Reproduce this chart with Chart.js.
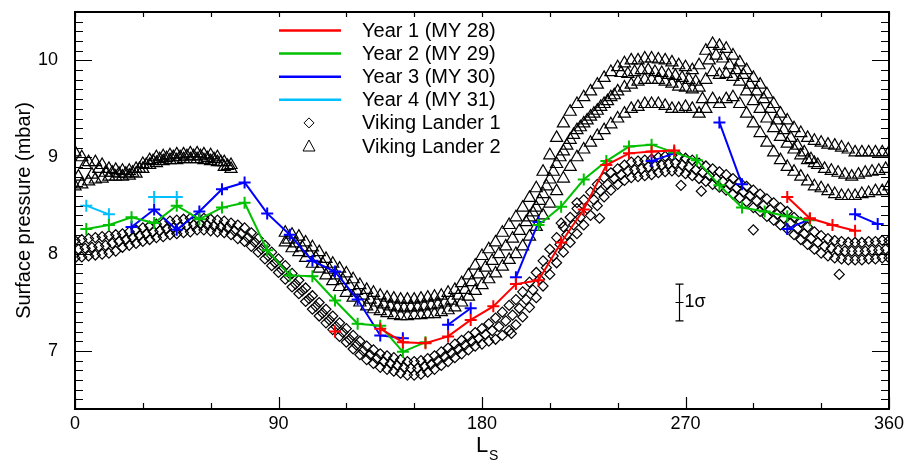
<!DOCTYPE html>
<html>
<head>
<meta charset="utf-8">
<script src="https://cdn.jsdelivr.net/npm/chart.js@4.4.1/dist/chart.umd.min.js"></script>
<style>
  html, body { margin: 0; padding: 0; background: #fff; }
  canvas { display: block; }
</style>
</head>
<body>
<canvas id="graficoPressao" width="908" height="464"></canvas>
<script>
// Ls bins of the orbiter retrievals (centre of each 10 degree bin)
var lsBins = [5, 15, 25, 35, 45, 55, 65, 75, 85, 95, 105, 115, 125, 135, 145, 155, 165, 175,
  185, 195, 205, 215, 225, 235, 245, 255, 265, 275, 285, 295, 305, 315, 325, 335, 345, 355];

var year1 = [null, null, null, null, null, null, null, null, null, null, null, 7.20, null, 7.23, 7.09, 7.08, 7.15, 7.32,
  7.46, 7.69, 7.73, 8.12, 8.46, 8.92, 9.04, 9.06, 9.07, null, null, null, null, 8.59, 8.37, 8.30, 8.24, null];
var year2 = [8.26, 8.30, 8.38, 8.32, 8.50, 8.36, 8.48, 8.53, 8.04, 7.78, 7.77, 7.52, 7.28, 7.26, 6.99, 7.09, null, null,
  null, null, 8.30, 8.49, 8.77, 8.96, 9.11, 9.13, 9.05, 8.97, 8.71, 8.48, 8.44, 8.39, 8.35, null, null, null];
var year3 = [null, null, 8.28, 8.46, 8.25, 8.44, 8.67, 8.74, 8.42, 8.20, 7.93, 7.82, 7.53, 7.16, 7.13, null, 7.27, 7.44,
  null, 7.76, 8.33, null, null, null, null, 8.96, 9.04, null, 9.36, 8.72, null, 8.26, 8.36, null, 8.41, 8.31];
var year4 = [8.50, 8.41, null, 8.59, 8.59, null, null, null, null, null, null, null, null, null, null, null, null, null,
  null, null, null, null, null, null, null, null, null, null, null, null, null, null, null, null, null, null];

// Viking Lander 1, read as upper and lower edge of the scatter band
var vl1Ls = [0, 3, 6, 9, 12, 15, 18, 21, 24, 27, 30, 33, 36, 39, 42, 45, 48, 51, 54, 57,
  60, 63, 66, 69, 72, 75, 78, 81, 84, 87, 90, 93, 96, 99, 102, 105, 108, 111, 114, 117,
  120, 123, 126, 129, 132, 135, 138, 141, 144, 147, 150, 153, 156, 159, 162, 165, 168, 171, 174, 177,
  180, 183, 186, 189, 192, 195, 198, 201, 204, 207, 210, 213, 216, 219, 222, 225, 228, 231, 234, 237,
  240, 243, 246, 249, 252, 255, 258, 261, 264, 267, 270, 273, 276, 279, 282, 285, 288, 291, 294, 297,
  300, 303, 306, 309, 312, 315, 318, 321, 324, 327, 330, 333, 336, 339, 342, 345, 348, 351, 354, 357, 360];
var vl1Upper = [8.14, 8.15, 8.16, 8.17, 8.18, 8.19, 8.20, 8.21, 8.23, 8.25,
  8.27, 8.29, 8.31, 8.32, 8.34, 8.35, 8.36, 8.37, 8.37, 8.37,
  8.36, 8.35, 8.34, 8.32, 8.30, 8.27, 8.22, 8.16, 8.09, 8.02,
  7.95, 7.88, 7.80, 7.73, 7.65, 7.57, 7.50, 7.43, 7.36, 7.29,
  7.23, 7.16, 7.10, 7.05, 7.01, 6.97, 6.95, 6.93, 6.91, 6.89,
  6.89, 6.90, 6.92, 6.95, 6.99, 7.03, 7.07, 7.11, 7.15, 7.19,
  7.23, 7.28, 7.34, 7.40, 7.47, 7.53, 7.61, 7.71, 7.81, 7.93,
  8.05, 8.17, 8.28, 8.38, 8.47, 8.56, 8.64, 8.72, 8.79, 8.84,
  8.88, 8.92, 8.95, 8.96, 8.97, 8.98, 9.00, 9.01, 9.02, 9.01,
  8.99, 8.97, 8.94, 8.91, 8.88, 8.85, 8.82, 8.78, 8.74, 8.70,
  8.66, 8.62, 8.57, 8.53, 8.48, 8.44, 8.38, 8.33, 8.28, 8.23,
  8.19, 8.16, 8.14, 8.13, 8.12, 8.12, 8.12, 8.13, 8.13, 8.14, 8.14];
var vl1Lower = [7.96, 7.97, 7.98, 7.99, 8.00, 8.01, 8.03, 8.07, 8.09, 8.11,
  8.13, 8.15, 8.17, 8.18, 8.20, 8.21, 8.22, 8.23, 8.25, 8.25,
  8.24, 8.23, 8.22, 8.20, 8.16, 8.13, 8.08, 8.02, 7.95, 7.88,
  7.81, 7.74, 7.66, 7.59, 7.51, 7.43, 7.36, 7.29, 7.22, 7.15,
  7.09, 7.02, 6.96, 6.91, 6.87, 6.83, 6.81, 6.79, 6.77, 6.75,
  6.75, 6.76, 6.78, 6.81, 6.85, 6.89, 6.93, 6.97, 7.01, 7.05,
  7.07, 7.10, 7.12, 7.16, 7.21, 7.27, 7.35, 7.45, 7.55, 7.67,
  7.79, 7.91, 8.02, 8.12, 8.21, 8.30, 8.40, 8.50, 8.59, 8.66,
  8.72, 8.76, 8.79, 8.80, 8.81, 8.82, 8.84, 8.85, 8.86, 8.85,
  8.83, 8.81, 8.78, 8.75, 8.72, 8.69, 8.66, 8.62, 8.58, 8.54,
  8.48, 8.44, 8.39, 8.35, 8.30, 8.26, 8.20, 8.15, 8.10, 8.05,
  8.01, 7.98, 7.96, 7.95, 7.94, 7.94, 7.94, 7.95, 7.95, 7.96, 7.96];
// VL1 middle of the band, sampled between the grid above
var vl1MidLs = [1.5, 4.5, 7.5, 10.5, 13.5, 16.5, 19.5, 22.5, 25.5, 28.5, 31.5, 34.5, 37.5, 40.5, 43.5, 46.5, 49.5, 52.5, 55.5, 58.5,
  61.5, 64.5, 67.5, 70.5, 73.5, 76.5, 79.5, 82.5, 85.5, 88.5, 91.5, 94.5, 97.5, 100.5, 103.5, 106.5, 109.5, 112.5, 115.5, 118.5,
  121.5, 124.5, 127.5, 130.5, 133.5, 136.5, 139.5, 142.5, 145.5, 148.5, 151.5, 154.5, 157.5, 160.5, 163.5, 166.5, 169.5, 172.5, 175.5, 178.5,
  181.5, 184.5, 187.5, 190.5, 193.5, 196.5, 199.5, 202.5, 205.5, 208.5, 211.5, 214.5, 217.5, 220.5, 223.5, 226.5, 229.5, 232.5, 235.5, 238.5,
  241.5, 244.5, 247.5, 250.5, 253.5, 256.5, 259.5, 262.5, 265.5, 268.5, 271.5, 274.5, 277.5, 280.5, 283.5, 286.5, 289.5, 292.5, 295.5, 298.5,
  301.5, 304.5, 307.5, 310.5, 313.5, 316.5, 319.5, 322.5, 325.5, 328.5, 331.5, 334.5, 337.5, 340.5, 343.5, 346.5, 349.5, 352.5, 355.5, 358.5];
var vl1Mid = [8.05, 8.06, 8.07, 8.08, 8.09, 8.11, 8.13, 8.15, 8.17, 8.19,
  8.21, 8.23, 8.24, 8.26, 8.27, 8.28, 8.29, 8.30, 8.31, 8.30,
  8.29, 8.28, 8.27, 8.24, 8.21, 8.17, 8.12, 8.05, 7.98, 7.91,
  7.84, 7.77, 7.69, 7.62, 7.54, 7.46, 7.39, 7.32, 7.25, 7.19,
  7.12, 7.06, 7.00, 6.96, 6.92, 6.89, 6.87, 6.85, 6.83, 6.82,
  6.82, 6.84, 6.86, 6.90, 6.94, 6.98, 7.02, 7.06, 7.10, 7.13,
  7.17, 7.21, 7.25, 7.31, 7.37, 7.44, 7.53, 7.63, 7.74, 7.86,
  7.98, 8.10, 8.20, 8.30, 8.38, 8.47, 8.56, 8.65, 8.72, 8.78,
  8.82, 8.86, 8.87, 8.88, 8.90, 8.91, 8.92, 8.93, 8.94, 8.92,
  8.90, 8.87, 8.84, 8.81, 8.78, 8.75, 8.72, 8.68, 8.64, 8.60,
  8.55, 8.50, 8.46, 8.41, 8.37, 8.32, 8.26, 8.21, 8.16, 8.12,
  8.08, 8.06, 8.04, 8.03, 8.03, 8.03, 8.03, 8.04, 8.04, 8.05];
var vl1ExtraLs = [193, 215, 222, 232, 268, 277, 300, 338];
var vl1Extra = [7.18, 8.32, 8.53, 8.37, 8.71, 8.65, 8.25, 7.79];

// Viking Lander 2 (no data between Ls 70 and 93)
var vl2Ls = [0, 3, 6, 9, 12, 15, 18, 21, 24, 27, 30, 33, 36, 39, 42, 45, 48, 51, 54, 57, 60, 63, 66, 69,
  93, 96, 99, 102, 105, 108, 111, 114, 117, 120, 123, 126, 129, 132, 135, 138, 141, 144, 147, 150,
  153, 156, 159, 162, 165, 168, 171, 174, 177, 180, 183, 186, 189, 192, 195, 198, 201, 204, 207, 210,
  213, 216, 219, 222, 225, 228, 231, 234, 237, 240, 243, 246, 249, 252, 255, 258, 261, 264, 267, 270,
  273, 276, 279, 282, 285, 288, 291, 294, 297, 300, 303, 306, 309, 312, 315, 318, 321, 324, 327, 330,
  333, 336, 339, 342, 345, 348, 351, 354, 357, 360];
var vl2Upper = [9.05, 9.00, 8.95, 8.95, 8.92, 8.88, 8.87, 8.86, 8.86, 8.88, 8.93, 8.97, 9.00, 9.01, 9.02, 9.03,
  9.03, 9.04, 9.04, 9.03, 9.02, 9.00, 8.95, 8.92,
  8.22, 8.20, 8.18, 8.12, 8.07, 8.02, 7.95, 7.90, 7.85, 7.80,
  7.74, 7.68, 7.63, 7.60, 7.57, 7.55, 7.54, 7.53, 7.53, 7.53,
  7.54, 7.55, 7.56, 7.57, 7.60, 7.63, 7.70, 7.78, 7.88, 7.98,
  8.05, 8.12, 8.22, 8.30, 8.38, 8.48, 8.58, 8.68, 8.85, 9.02,
  9.20, 9.35, 9.47, 9.55, 9.62, 9.68, 9.75, 9.82, 9.88, 9.93,
  9.97, 10.00, 10.00, 10.02, 10.02, 10.01, 10.00, 9.98, 9.95, 9.93,
  9.90, 9.95, 10.10, 10.17, 10.15, 10.12, 10.05, 9.98, 9.90, 9.82,
  9.75, 9.65, 9.55, 9.45, 9.38, 9.30, 9.25, 9.20, 9.17, 9.15,
  9.13, 9.12, 9.10, 9.08, 9.05, 9.05, 9.05, 9.05, 9.05, 9.05];
var vl2Lower = [8.70, 8.72, 8.75, 8.77, 8.78, 8.80, 8.80, 8.80, 8.81, 8.83, 8.88, 8.92, 8.94, 8.96, 8.97, 8.97,
  8.98, 8.98, 8.98, 8.97, 8.96, 8.95, 8.90, 8.88,
  8.12, 8.06, 8.02, 7.96, 7.90, 7.85, 7.78, 7.72, 7.66, 7.60,
  7.55, 7.50, 7.46, 7.43, 7.41, 7.39, 7.37, 7.36, 7.36, 7.37,
  7.37, 7.38, 7.38, 7.40, 7.42, 7.45, 7.50, 7.56, 7.62, 7.68,
  7.74, 7.80, 7.87, 7.94, 8.00, 8.08, 8.18, 8.28, 8.40, 8.52,
  8.65, 8.78, 8.90, 9.00, 9.08, 9.15, 9.22, 9.28, 9.34, 9.40,
  9.45, 9.50, 9.52, 9.55, 9.55, 9.55, 9.53, 9.50, 9.50, 9.52,
  9.50, 9.45, 9.50, 9.60, 9.55, 9.60, 9.62, 9.55, 9.45, 9.35,
  9.25, 9.15, 9.05, 8.97, 8.90, 8.85, 8.80, 8.75, 8.70, 8.68,
  8.65, 8.62, 8.60, 8.60, 8.60, 8.62, 8.63, 8.65, 8.65, 8.70];
// VL2 samples between the grid above
var vl2HalfLs = [1.5, 4.5, 7.5, 10.5, 13.5, 16.5, 19.5, 22.5, 25.5, 28.5, 31.5, 34.5, 37.5, 40.5, 43.5, 46.5, 49.5, 52.5, 55.5, 58.5,
  61.5, 64.5, 67.5,
  94.5, 97.5, 100.5, 103.5, 106.5, 109.5, 112.5, 115.5, 118.5, 121.5, 124.5, 127.5, 130.5, 133.5, 136.5, 139.5, 142.5, 145.5, 148.5, 151.5,
  154.5, 157.5, 160.5, 163.5, 166.5, 169.5, 172.5, 175.5, 178.5, 181.5, 184.5, 187.5, 190.5, 193.5, 196.5, 199.5, 202.5, 205.5, 208.5, 211.5,
  214.5, 217.5, 220.5, 223.5, 226.5, 229.5, 232.5, 235.5, 238.5, 241.5, 244.5, 247.5, 250.5, 253.5, 256.5, 259.5, 262.5, 265.5, 268.5, 271.5,
  274.5, 277.5, 280.5, 283.5, 286.5, 289.5, 292.5, 295.5, 298.5, 301.5, 304.5, 307.5, 310.5, 313.5, 316.5, 319.5, 322.5, 325.5, 328.5, 331.5,
  334.5, 337.5, 340.5, 343.5, 346.5, 349.5, 352.5, 355.5, 358.5];
var vl2Half = [8.80, 8.92, 8.82, 8.88, 8.84, 8.84, 8.83, 8.83, 8.84, 8.88, 8.92, 8.96, 8.98, 8.99, 9.00, 9.00, 9.01, 9.01, 9.01, 8.99,
  8.98, 8.95, 8.91,
  8.15, 8.11, 8.07, 8.01, 7.96, 7.90, 7.84, 7.78, 7.73, 7.67,
  7.62, 7.57, 7.53, 7.50, 7.48, 7.46, 7.45, 7.44, 7.45, 7.45,
  7.46, 7.47, 7.48, 7.50, 7.52, 7.57, 7.63, 7.71, 7.79, 7.86,
  7.93, 8.00, 8.08, 8.16, 8.24, 8.33, 8.43, 8.55, 8.70, 8.85,
  9.00, 9.12, 9.23, 9.31, 9.38, 9.45, 9.52, 9.58, 9.64, 9.87,
  9.86, 9.88, 9.90, 9.90, 9.88, 9.87, 9.85, 9.84, 9.82, 9.80,
  9.78, 9.60, 10.00, 10.05, 10.02, 9.95, 9.90, 9.85, 9.75, 9.68,
  9.60, 9.50, 9.38, 9.28, 9.20, 9.12, 9.05, 8.98, 8.92, 8.88,
  8.86, 8.84, 8.82, 8.80, 8.82, 8.84, 8.85, 8.86, 8.88];
// middle of the wide VL2 band around the dust season
var vl2MidLs = [201, 204, 207, 210, 213, 216, 219, 222, 225, 228, 231, 234, 237, 240, 243, 246, 249, 252, 255, 258,
  261, 264, 267, 270, 273, 276, 279, 282, 285, 288, 291, 294, 297, 300, 303, 306, 309, 312, 315, 318, 321, 324, 327];
var vl2Mid = [8.38, 8.48, 8.62, 8.77, 8.93, 9.06, 9.18, 9.28, 9.35, 9.42, 9.48, 9.55, 9.62, 9.68, 9.72, 9.75, 9.78, 9.80, 9.80, 9.80,
  9.78, 9.76, 9.73, 9.72, 9.70, 9.72, 9.80, 9.88, 9.85, 9.86, 9.83, 9.78, 9.68, 9.58, 9.50, 9.40, 9.30, 9.21, 9.14, 9.08, 9.02, 8.97, 8.94];

var xTicks = [0, 90, 180, 270, 360];
var yTicks = [7, 8, 9, 10];

// 1-sigma error bar shown in the plot
var sigmaLs = 267;
var sigmaP = 7.50;
var sigmaVal = 0.19;

var Grafico = Grafico || {};

Grafico.Pressao = (function() {

  var FONTE = '"Liberation Sans", Arial, Helvetica, sans-serif';

  function Pressao() {
    this.ctx = document.getElementById('graficoPressao').getContext('2d');
  }

  function pares(xs, ys) {
    return xs.map(function(x, i) { return { x: x, y: ys[i] }; });
  }

  function serieAno(label, valores, cor) {
    return {
      label: label,
      data: pares(lsBins, valores),
      showLine: true,
      spanGaps: false,
      borderColor: cor,
      backgroundColor: cor,
      borderWidth: 2,
      pointStyle: 'cross',
      pointRadius: 6,
      pointBorderWidth: 2,
      pointBorderColor: cor,
      naLegenda: true,
      simbolo: 'linha'
    };
  }

  function serieViking(label, xs, ys, estilo, raio, legenda) {
    return {
      label: label,
      data: pares(xs, ys),
      showLine: false,
      pointStyle: estilo,
      pointRadius: raio,
      pointBorderWidth: 1.2,
      pointBorderColor: '#000',
      pointBackgroundColor: 'rgba(0,0,0,0)',
      naLegenda: legenda,
      simbolo: estilo
    };
  }

  // no automatic padding from the tick labels, the box is placed by layout.padding
  function semPadding(s) {
    s.paddingTop = 0; s.paddingBottom = 0; s.paddingLeft = 0; s.paddingRight = 0;
  }

  // frame with inward ticks, like the original IDL plot
  var moldura = {
    id: 'moldura',
    afterDatasetsDraw: function(chart) {
      var c = chart.ctx, a = chart.chartArea;
      var sx = chart.scales.x, sy = chart.scales.y;
      c.save();
      c.strokeStyle = '#000';
      c.lineWidth = 1.2;
      c.beginPath();
      for (var l = 0; l <= 360; l += 30) {
        var px = Math.round(sx.getPixelForValue(l)) + 0.5;
        var maior = l % 90 === 0;
        c.moveTo(px, a.bottom); c.lineTo(px, a.bottom - (maior ? 12 : 6));
        c.moveTo(px, a.top); c.lineTo(px, a.top + 5);
      }
      for (var k = 64; k <= 105; k++) {
        var py = Math.round(sy.getPixelForValue(k / 10)) + 0.5;
        var len = k % 10 === 0 ? 17 : 8;
        c.moveTo(a.left, py); c.lineTo(a.left + len, py);
        c.moveTo(a.right, py); c.lineTo(a.right - len, py);
      }
      c.stroke();
      c.lineWidth = 2;
      c.strokeRect(a.left, a.top, a.right - a.left, a.bottom - a.top);

      // error bar
      var ex = Math.round(sx.getPixelForValue(sigmaLs)) + 0.5;
      var ey1 = sy.getPixelForValue(sigmaP + sigmaVal);
      var ey0 = sy.getPixelForValue(sigmaP - sigmaVal);
      var ey = sy.getPixelForValue(sigmaP);
      c.lineWidth = 1.2;
      c.beginPath();
      c.moveTo(ex, ey1); c.lineTo(ex, ey0);
      c.moveTo(ex - 4, ey1); c.lineTo(ex + 4, ey1);
      c.moveTo(ex - 4, ey0); c.lineTo(ex + 4, ey0);
      c.moveTo(ex - 4, ey); c.lineTo(ex + 4, ey);
      c.stroke();
      c.fillStyle = '#000';
      c.font = '18px ' + FONTE;
      c.textBaseline = 'middle';
      c.textAlign = 'left';
      c.fillText('1\u03c3', ex + 5, ey);

      // axis titles
      c.save();
      c.translate(24, (a.top + a.bottom) / 2);
      c.rotate(-Math.PI / 2);
      c.textAlign = 'center';
      c.font = '20px ' + FONTE;
      c.fillText('Surface pressure (mbar)', 0, 0);
      c.restore();
      c.textAlign = 'left';
      c.textBaseline = 'alphabetic';
      c.font = '22px ' + FONTE;
      c.fillText('L', 476, 452);
      c.font = '14px ' + FONTE;
      c.fillText('S', 489, 460);
      c.restore();
    }
  };

  var legenda = {
    id: 'legenda',
    afterDraw: function(chart) {
      var c = chart.ctx;
      var itens = chart.data.datasets.filter(function(d) { return d.naLegenda; });
      c.save();
      c.font = '20px ' + FONTE;
      c.textBaseline = 'middle';
      c.fillStyle = '#000';
      itens.forEach(function(ds, i) {
        var y = 30.5 + i * 23.1;
        if (ds.simbolo === 'linha') {
          c.strokeStyle = ds.borderColor;
          c.lineWidth = 2.5;
          c.beginPath(); c.moveTo(279, y); c.lineTo(341, y); c.stroke();
        } else {
          c.strokeStyle = '#000';
          c.lineWidth = 1;
          c.beginPath();
          if (ds.simbolo === 'rectRot') {
            c.moveTo(309, y - 5); c.lineTo(314, y); c.lineTo(309, y + 5); c.lineTo(304, y); c.closePath();
          } else {
            c.moveTo(309, y - 6); c.lineTo(315, y + 5); c.lineTo(303, y + 5); c.closePath();
          }
          c.stroke();
        }
        c.fillText(ds.label, 362, y + 1);
      });
      c.restore();
    }
  };

  Pressao.prototype.iniciar = function() {
    var fonteTicks = { family: FONTE, size: 18 };
    new Chart(this.ctx, {
      type: 'scatter',
      data: {
        datasets: [
          serieAno('Year 1 (MY 28)', year1, '#ff0000'),
          serieAno('Year 2 (MY 29)', year2, '#00c000'),
          serieAno('Year 3 (MY 30)', year3, '#0000ff'),
          serieAno('Year 4 (MY 31)', year4, '#00bfff'),
          serieViking('Viking Lander 1', vl1Ls, vl1Upper, 'rectRot', 5, true),
          serieViking('Viking Lander 2', vl2Ls, vl2Upper, 'triangle', 7, true),
          serieViking('Viking Lander 1', vl1Ls, vl1Lower, 'rectRot', 5, false),
          serieViking('Viking Lander 1', vl1MidLs, vl1Mid, 'rectRot', 5, false),
          serieViking('Viking Lander 1', vl1ExtraLs, vl1Extra, 'rectRot', 5, false),
          serieViking('Viking Lander 2', vl2Ls, vl2Lower, 'triangle', 7, false),
          serieViking('Viking Lander 2', vl2HalfLs, vl2Half, 'triangle', 7, false),
          serieViking('Viking Lander 2', vl2MidLs, vl2Mid, 'triangle', 7, false)
        ]
      },
      options: {
        responsive: false,
        animation: false,
        events: [],
        layout: { padding: { top: 12, right: 19, left: 0, bottom: 0 } },
        plugins: { legend: { display: false }, tooltip: { enabled: false } },
        scales: {
          x: {
            type: 'linear', min: 0, max: 360,
            afterBuildTicks: function(s) { s.ticks = xTicks.map(function(v) { return { value: v }; }); },
            afterFit: function(s) { s.height = 55; semPadding(s); },
            grid: { display: false }, border: { display: false },
            ticks: { font: fonteTicks, color: '#000', padding: -4, maxRotation: 0 }
          },
          y: {
            type: 'linear', min: 6.4, max: 10.5,
            afterBuildTicks: function(s) { s.ticks = yTicks.map(function(v) { return { value: v }; }); },
            afterFit: function(s) { s.width = 75; semPadding(s); },
            grid: { display: false }, border: { display: false },
            ticks: { font: fonteTicks, color: '#000', padding: 9 }
          }
        }
      },
      plugins: [moldura, legenda]
    });
  };

  return Pressao;

}());

document.addEventListener('DOMContentLoaded', function() {
  var grafico = new Grafico.Pressao();
  grafico.iniciar();
});
</script>
</body>
</html>
